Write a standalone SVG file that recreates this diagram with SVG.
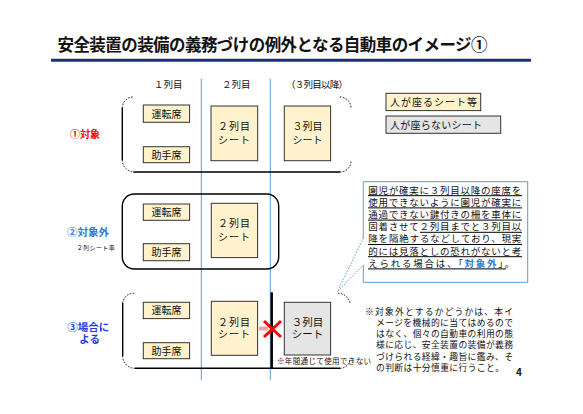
<svg xmlns="http://www.w3.org/2000/svg" width="583" height="414" viewBox="0 0 583 414">
<style>
text{font-family:"Noto Sans CJK JP","Noto Sans CJK SC",sans-serif;fill:#111}
.seat{fill:#fff2cc;stroke:#333;stroke-width:1}
.grey{fill:#e5e5e5;stroke:#333;stroke-width:1}
.t10{font-size:10px}
.mid{text-anchor:middle}
.solid{fill:none;stroke:#000;stroke-width:1.4}
.dot{fill:none;stroke:#000;stroke-width:1;stroke-dasharray:1.5 1.5}
.blue{stroke:#5b9bd5;stroke-width:1;fill:none}
.ul{stroke:#000;stroke-width:1}
</style>
<rect width="583" height="414" fill="#fff"/>
<g id="title">
<text x="57.5" y="51" font-size="16.5" font-weight="bold" textLength="430" lengthAdjust="spacing">安全装置の装備の義務づけの例外となる自動車のイメージ①</text>
<line x1="51" y1="60.2" x2="531" y2="60.2" stroke="#1f2f7f" stroke-width="3"/>
</g>
<g id="headers" font-size="9.5">
<text x="154" y="88.3">１列目</text>
<text x="222" y="88.3">２列目</text>
<text x="286" y="88.3" textLength="62" lengthAdjust="spacing">（３列目以降）</text>
</g>
<g id="connectors">
<line class="blue" x1="201.3" y1="79" x2="201.3" y2="380"/>
<line class="blue" x1="270.3" y1="79" x2="270.3" y2="380"/>
<path class="blue" d="M363.3,238 V181.7 H527.7 V282.3 H363.3 V265"/>
<path class="blue" stroke-dasharray="1.5 1.5" d="M363.3,238 L337.3,291.7 L363.3,265"/>
</g>
<g id="legend">
<rect class="seat" x="386" y="93.3" width="94.7" height="17.3"/>
<text class="t10" x="390" y="105.8" textLength="87" lengthAdjust="spacing">人が座るシート等</text>
<rect class="grey" x="386" y="116" width="114.7" height="17.3"/>
<text class="t10" x="390" y="128.5" textLength="92" lengthAdjust="spacing">人が座らないシート</text>
</g>
<g id="row1">
<path class="solid" d="M122.3,108 V160 M133.5,172 H340"/>
<path class="dot" d="M122.3,108 A11,11 0 0 1 133.3,97 M122.3,160 A12,12 0 0 0 134,172 M340,97 A11,11 0 0 1 351,108 M340,172 A11,11 0 0 0 351,161"/>
<text x="70" y="138" font-size="10" font-weight="bold" style="fill:#ff0000">①対象</text>
<rect class="seat" x="143.3" y="105" width="46.3" height="17.3"/>
<text class="t10 mid" x="166.5" y="117.5">運転席</text>
<rect class="seat" x="143.3" y="146.7" width="46.3" height="16"/>
<text class="t10 mid" x="166.5" y="158.5">助手席</text>
<rect class="seat" x="211" y="106" width="46.7" height="54.7"/>
<text class="t10 mid" x="234.4" y="129.8" letter-spacing="1">２列目</text>
<text class="t10 mid" x="234.4" y="143.8" letter-spacing="1">シート</text>
<rect class="seat" x="284.3" y="106" width="46.3" height="54.7"/>
<text class="t10 mid" x="307.5" y="129.8">３列目</text>
<text class="t10 mid" x="307.5" y="143.8">シート</text>
</g>
<g id="row2">
<rect class="solid" x="122.3" y="194" width="156.4" height="75" rx="12"/>
<text x="67" y="235.5" font-size="10.5" font-weight="bold" style="fill:#2a7bd4">②対象外</text>
<text x="76.7" y="250" font-size="6" textLength="38" lengthAdjust="spacing">２列シート車</text>
<rect class="seat" x="143.3" y="204" width="46.3" height="16.3"/>
<text class="t10 mid" x="166.5" y="215.9">運転席</text>
<rect class="seat" x="143.3" y="243.7" width="46.3" height="17"/>
<text class="t10 mid" x="166.5" y="256">助手席</text>
<rect class="seat" x="211.3" y="203.3" width="46.3" height="54.3"/>
<text class="t10 mid" x="234.4" y="227.1" letter-spacing="1">２列目</text>
<text class="t10 mid" x="234.4" y="241.1" letter-spacing="1">シート</text>
</g>
<g id="row3">
<path class="solid" d="M122.7,303 V356 M134.5,368.3 H340"/>
<path class="dot" d="M122.7,303 A11,11 0 0 1 135,293.3 M122.7,356 A12,12 0 0 0 134.5,368.3 M338,293.3 A12,12 0 0 1 350,303 M340,368.3 A10,10 0 0 0 350,359"/>
<text x="67.3" y="330.5" font-size="10.5" font-weight="bold" style="fill:#1f3fdf">③場合に</text>
<text x="79.3" y="343.1" font-size="10.5" font-weight="bold" style="fill:#1f3fdf">よる</text>
<rect class="seat" x="143.3" y="302.3" width="46.3" height="16.3"/>
<text class="t10 mid" x="166.5" y="314.2">運転席</text>
<rect class="seat" x="143.3" y="342.7" width="46.3" height="16"/>
<text class="t10 mid" x="166.5" y="354.5">助手席</text>
<rect class="seat" x="211.3" y="301.3" width="46.3" height="54"/>
<text class="t10 mid" x="234.4" y="325.5" letter-spacing="1">２列目</text>
<text class="t10 mid" x="234.4" y="337.8" letter-spacing="1">シート</text>
<rect class="grey" x="284.3" y="302.3" width="46.3" height="52.7"/>
<text class="mid" x="307.5" y="325.7" font-size="10.5">３列目</text>
<text class="mid" x="307.5" y="338" font-size="10.5">シート</text>
<line x1="271.7" y1="292.3" x2="271.7" y2="368.3" stroke="#000" stroke-width="2.5"/>
<rect x="259" y="326.5" width="9" height="4" fill="#f4a3a3"/>
<path d="M264,321 L281,337 M264,337 L281,321" stroke="#ff0000" stroke-width="3" fill="none"/>
<text x="277" y="364.3" font-size="7.5" textLength="94" lengthAdjust="spacing">※年間通じて使用できない</text>
</g>
<g id="callout" font-size="9.5">
<text x="368.3" y="193.6" textLength="153" lengthAdjust="spacing">園児が確実に３列目以降の座席を</text>
<text x="368.3" y="205.8" textLength="153" lengthAdjust="spacing">使用できないように園児が確実に</text>
<text x="368.3" y="218" textLength="153" lengthAdjust="spacing">通過できない鍵付きの柵を車体に</text>
<text x="368.3" y="230.2" textLength="153" lengthAdjust="spacing">固着させて２列目までと３列目以</text>
<text x="368.3" y="242.4" textLength="153" lengthAdjust="spacing">降を隔絶するなどしており、現実</text>
<text x="368.3" y="254.6" textLength="153" lengthAdjust="spacing">的には見落としの恐れがないと考</text>
<text x="368.3" y="266.8" textLength="146" lengthAdjust="spacing">えられる場合は、「<tspan font-weight="bold" style="fill:#2a7bd4">対象外</tspan>」。</text>
<path class="ul" d="M368,195.7 H522 M368,207.9 H522 M368,220.1 H522 M420,232.3 H522 M368,244.5 H522 M368,256.7 H522 M368,268.9 H506"/>
</g>
<g id="note" font-size="8.8">
<text x="365" y="315" textLength="148" lengthAdjust="spacing">※対象外とするかどうかは、本イ</text>
<text x="376" y="326.1" textLength="137" lengthAdjust="spacing">メージを機械的に当てはめるので</text>
<text x="376" y="337.2" textLength="137" lengthAdjust="spacing">はなく、個々の自動車の利用の態</text>
<text x="376" y="348.3" textLength="137" lengthAdjust="spacing">様に応じ、安全装置の装備が義務</text>
<text x="376" y="359.5" textLength="137" lengthAdjust="spacing">づけられる経緯・趣旨に鑑み、そ</text>
<text x="376" y="370.6" textLength="128" lengthAdjust="spacing">の判断は十分慎重に行うこと。</text>
<text x="516" y="376" font-size="10" font-weight="bold">4</text>
</g>
</svg>
